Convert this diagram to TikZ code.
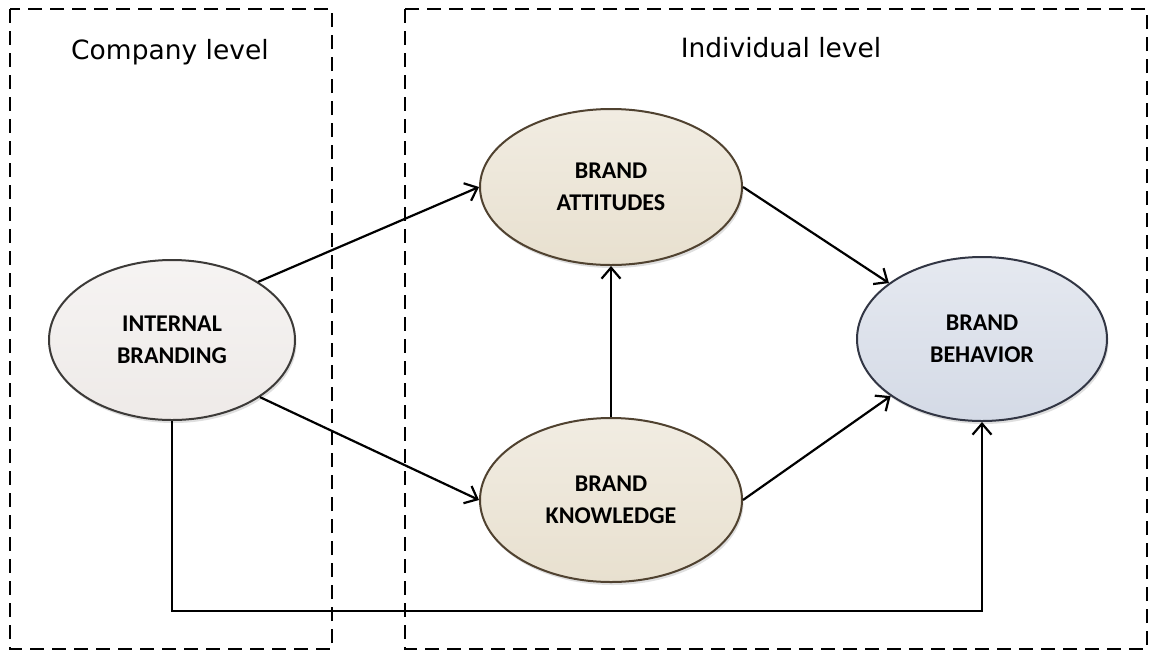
\documentclass[tikz,border=0pt]{standalone}
\usepackage{fontspec}
\setmainfont{Carlito}
\newfontfamily\headfont{DejaVu Sans}
\usetikzlibrary{shapes.geometric,arrows.meta,shadows}

\definecolor{ibfill}{RGB}{238,234,232}
\definecolor{ibedge}{RGB}{60,58,56}
\definecolor{bafill}{RGB}{232,224,207}
\definecolor{baedge}{RGB}{80,66,48}
\definecolor{bbfill}{RGB}{212,218,230}
\definecolor{bbedge}{RGB}{50,54,68}

\tikzset{
  levelbox/.style={draw=black, line width=2pt, dash pattern=on 14pt off 8pt},
  levellabel/.style={font=\headfont\fontsize{26.5}{30}\selectfont, anchor=base},
  concept/.style={ellipse, inner sep=0pt, line width=2pt, align=center,
    font=\bfseries\fontsize{24}{32}\selectfont,
    drop shadow={shadow xshift=1.5pt, shadow yshift=-3pt, opacity=0.25}},
  flow/.style={line width=2.2pt, -{Straight Barb[length=11pt,width=19pt,line width=2.2pt]}},
}

\begin{document}
\begin{tikzpicture}[x=1pt,y=-1pt]
  \useasboundingbox (0,0) rectangle (1150,651);

  % level frames
  \draw[levelbox] (10,9) rectangle (332,649);
  \draw[levelbox] (405,9) rectangle (1147,649);
  \node[levellabel] (company) at (170,59) {Company level};
  \node[levellabel] (individual) at (781,57) {Individual level};

  % concepts
  \node[concept, draw=ibedge, top color=ibfill!55!white, bottom color=ibfill,
        minimum width=246pt, minimum height=160pt] (ib) at (172,340) {INTERNAL\\BRANDING};
  \node[concept, draw=baedge, top color=bafill!60!white, bottom color=bafill,
        minimum width=262pt, minimum height=156pt] (ba) at (611,187) {BRAND\\ATTITUDES};
  \node[concept, draw=baedge, top color=bafill!60!white, bottom color=bafill,
        minimum width=262pt, minimum height=164pt] (bk) at (611,500) {BRAND\\KNOWLEDGE};
  \node[concept, draw=bbedge, top color=bbfill!60!white, bottom color=bbfill,
        minimum width=250pt, minimum height=164pt] (bb) at (982,339) {BRAND\\BEHAVIOR};

  % links
  \coordinate (low) at (0,611);
  \draw[flow] (ib.34) -- (ba.west);
  \draw[flow] (ib.-33) -- (bk.west);
  \draw[flow] (bk.north) -- (ba.south);
  \draw[flow] (ba.east) -- (bb.149);
  \draw[flow] (bk.east) -- (bb.212);
  \draw[flow] (ib.south) -- (ib.south |- low) -| (bb.south);
\end{tikzpicture}
\end{document}
